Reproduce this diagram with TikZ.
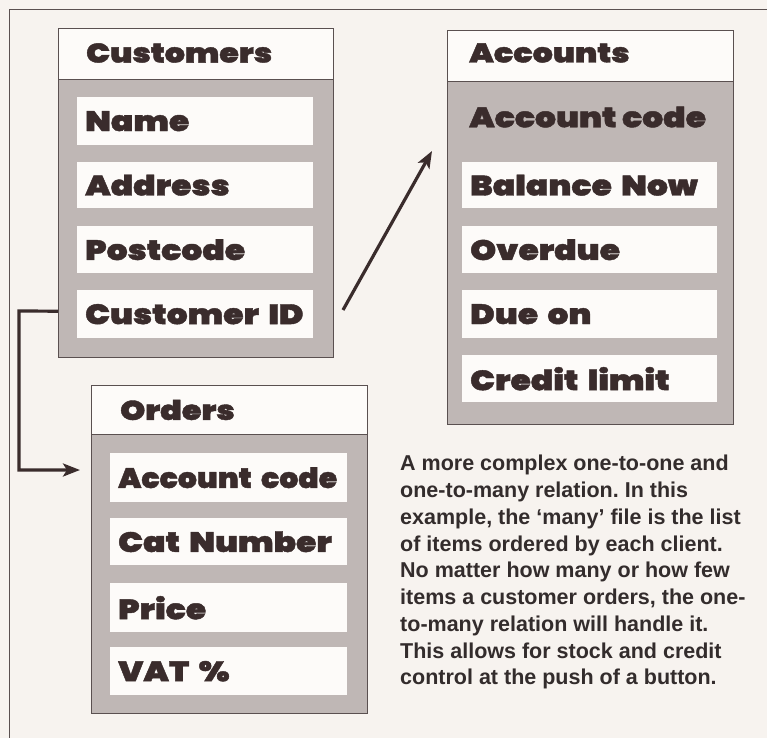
\documentclass[tikz,border=0pt]{standalone}
\usepackage{fontspec}
\setmainfont{Liberation Sans}
\newfontfamily\heavy{Poppins Black}[FakeStretch=1.18, FakeBold=1.5]
\newfontfamily\heavytight{Poppins Black}[FakeStretch=1.07, FakeBold=1.5, WordSpace=0.55]
\usetikzlibrary{arrows.meta}
\frenchspacing
\definecolor{paper}{HTML}{F7F3EF}
\definecolor{greyfill}{HTML}{BFB7B5}
\definecolor{rowwhite}{HTML}{FDFBF9}
\definecolor{ink}{HTML}{3A2C2C}
\definecolor{lineink}{HTML}{5A5050}
\definecolor{textink}{HTML}{332C2C}
\tikzset{
  tablebox/.style={draw=lineink, line width=0.8pt, fill=greyfill, anchor=north west, inner sep=0pt},
  headbox/.style={draw=lineink, line width=0.8pt, fill=rowwhite, anchor=north west, inner sep=0pt},
  headtext/.style={anchor=west, inner sep=0pt, text=ink, font=\heavy\fontsize{27}{30}\selectfont},
  rowbox/.style={fill=rowwhite, anchor=north west, inner xsep=8pt, inner ysep=0pt, align=left, text=ink, font=\heavy\fontsize{28}{30}\selectfont},
  rowtext/.style={anchor=west, inner sep=0pt, text=ink, font=\heavy\fontsize{28}{30}\selectfont},
  conn/.style={draw=ink, line width=3.2pt, -{Stealth[length=17pt,width=13pt,inset=4pt]}},
}
\begin{document}
\begin{tikzpicture}[x=1pt,y=-1pt]
\useasboundingbox (0,0) rectangle (767,738);
\fill[paper] (0,0) rectangle (767,738);
% frame
\draw[lineink, line width=0.8pt] (767,9) -- (9,9) -- (9,738);

% Customers table
\node[tablebox, minimum width=275pt, minimum height=329pt] (cust) at (58,28) {};
\node[headbox, minimum width=275pt, minimum height=51pt] (custh) at (58,28) {};
\node[headtext] (custt) at (86,53) {Customers};
\node[rowbox, text width=220pt, minimum height=48pt] (cname) at (77,97) {\mbox{Name}};
\node[rowbox, text width=220pt, minimum height=46pt] (caddr) at (77,162) {\mbox{Address}};
\node[rowbox, text width=220pt, minimum height=47pt] (cpost) at (77,226) {\mbox{Postcode}};
\node[rowbox, text width=220pt, minimum height=48pt] (cid) at (77,290) {\mbox{Customer ID}};

% Accounts table
\node[tablebox, minimum width=286pt, minimum height=394pt] (acc) at (447,30) {};
\node[headbox, minimum width=286pt, minimum height=51pt] (acch) at (447,30) {};
\node[headtext] (acct) at (469,53) {Accounts};
\node[rowtext] (acode) at (469,117) {Account code};
\node[rowbox, text width=239pt, minimum height=46pt] (abal) at (462,162) {\mbox{Balance Now}};
\node[rowbox, text width=239pt, minimum height=47pt] (aover) at (462,226) {\mbox{Overdue}};
\node[rowbox, text width=239pt, minimum height=48pt] (adue) at (462,290) {\mbox{Due on}};
\node[rowbox, text width=239pt, minimum height=47pt] (acred) at (462,355) {\mbox{Credit limit}};

% Orders table
\node[tablebox, minimum width=276pt, minimum height=328pt] (ord) at (91,385) {};
\node[headbox, minimum width=276pt, minimum height=49pt] (ordh) at (91,385) {};
\node[headtext] (ordt) at (120,410) {Orders};
\node[rowbox, text width=221pt, minimum height=49pt] (oacc) at (110,453) {\mbox{\heavytight Account code}};
\node[rowbox, text width=221pt, minimum height=47pt] (ocat) at (110,518) {\mbox{Cat Number}};
\node[rowbox, text width=221pt, minimum height=49pt] (oprice) at (110,583) {\mbox{Price}};
\node[rowbox, text width=221pt, minimum height=48pt] (ovat) at (110,647) {\mbox{VAT \%}};

% connectors
\coordinate (cidleft) at ([yshift=3pt]cust.west |- cid.west);
\coordinate (ordtip) at (80,470);
\draw[conn] (cidleft) -- (19,311) |- (ordtip);
\coordinate (linkstart) at (343,310);
\coordinate (linktip) at (432,151);
\draw[conn] (linkstart) -- (linktip);

% caption
\node[anchor=north west, inner sep=0pt, align=left, text=textink,
      font=\bfseries\fontsize{21.5}{26.75}\selectfont] (caption) at (400,455)
{A more complex one-to-one and\\
one-to-many relation. In this\\
example, the ‘many’ file is the list\\
of items ordered by each client.\\
No matter how many or how few\\
items a customer orders, the one-\\
to-many relation will handle it.\\
This allows for stock and credit\\
control at the push of a button.};
\end{tikzpicture}
\end{document}
